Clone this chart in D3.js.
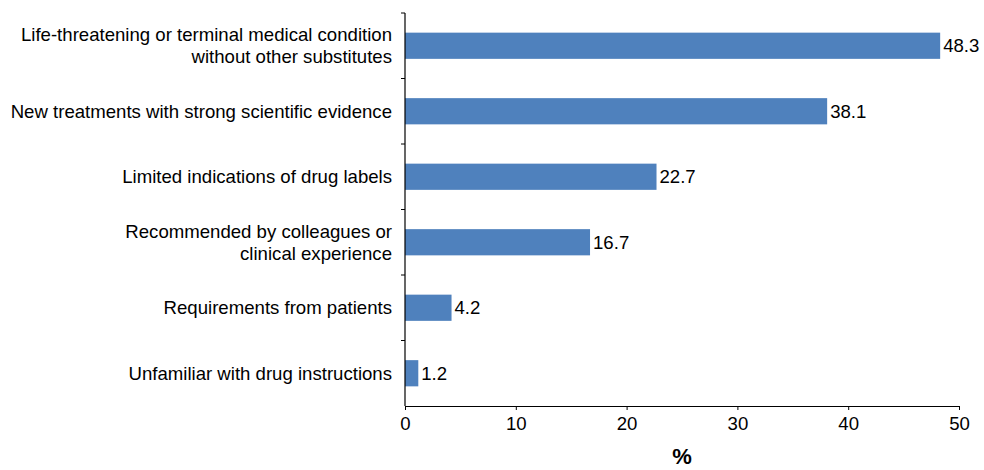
<!DOCTYPE html>
<html>
<head>
<meta charset="utf-8">
<script src="https://cdn.jsdelivr.net/npm/d3@7"></script>
<style>
  html, body { margin: 0; padding: 0; background: #fff; }
  svg { display: block; font-family: "Liberation Sans", Arial, sans-serif; }
</style>
</head>
<body>
<svg id="chart" width="984" height="470"></svg>
<script>
// Reasons for prescribing, share of respondents (%)
const categories = [
  ["Life-threatening or terminal medical condition", "without other substitutes"],
  ["New treatments with strong scientific evidence"],
  ["Limited indications of drug labels"],
  ["Recommended by colleagues or", "clinical experience"],
  ["Requirements from patients"],
  ["Unfamiliar with drug instructions"]
];
const values = [48.3, 38.1, 22.7, 16.7, 4.2, 1.2];
const xTicks = [0, 10, 20, 30, 40, 50];
const xTitle = "%";

const FS = 18.6;
const svg = d3.select("#chart");
const margin = { left: 405, right: 25, top: 13, bottom: 64 };
const W = 984, H = 470;
const innerH = H - margin.top - margin.bottom;

const g = svg.append("g").attr("transform", `translate(${margin.left},${margin.top})`);

const x = d3.scaleLinear().domain([0, 50]).range([0, 554]);
const y = d3.scaleBand().domain(d3.range(categories.length)).range([0, innerH]).paddingInner(0.6).paddingOuter(0.3);

// bars
g.selectAll("rect.bar").data(values).join("rect")
  .attr("class", "bar")
  .attr("x", x(0))
  .attr("y", (d, i) => y(i))
  .attr("width", d => x(d) - x(0))
  .attr("height", y.bandwidth())
  .attr("fill", "#4f81bd");

// value labels
g.selectAll("text.val").data(values).join("text")
  .attr("class", "val")
  .attr("x", d => x(d) + 3)
  .attr("y", (d, i) => y(i) + y.bandwidth() / 2)
  .attr("dy", "0.35em")
  .attr("font-size", FS)
  .attr("fill", "#000")
  .text(d => d.toFixed(1));

// x axis
const xAxis = g.append("g").attr("transform", `translate(0,${innerH})`)
  .call(d3.axisBottom(x).tickValues(xTicks).tickSize(4).tickSizeOuter(0).tickPadding(7));
xAxis.select(".domain").attr("stroke", "#000").attr("stroke-width", 1.2);
xAxis.selectAll(".tick line").attr("stroke", "#000");
xAxis.selectAll(".tick text").attr("font-size", FS).attr("fill", "#000")
  .attr("font-family", "Liberation Sans, Arial, sans-serif");

// y axis: line with ticks at category boundaries
const step = innerH / categories.length;
g.append("line").attr("x1", 0).attr("x2", 0).attr("y1", 0).attr("y2", innerH)
  .attr("stroke", "#000").attr("stroke-width", 1.2);
g.selectAll("line.ytick").data(d3.range(categories.length)).join("line")
  .attr("class", "ytick")
  .attr("x1", -4).attr("x2", 0)
  .attr("y1", i => i * step).attr("y2", i => i * step)
  .attr("stroke", "#000");

// category labels
const labels = g.selectAll("text.cat").data(categories).join("text")
  .attr("class", "cat")
  .attr("text-anchor", "end")
  .attr("font-size", FS)
  .attr("fill", "#000")
  .attr("x", -13)
  .attr("y", (d, i) => y(i) + y.bandwidth() / 2);
labels.each(function(lines) {
  const t = d3.select(this);
  const lh = 22;
  const off = -(lines.length - 1) * lh / 2;
  lines.forEach((ln, j) => {
    t.append("tspan").attr("x", -13)
      .attr("dy", j === 0 ? (off / FS + 0.35) + "em" : lh + "px")
      .text(ln);
  });
});

// x axis title
g.append("text")
  .attr("x", x(25))
  .attr("y", innerH + 58)
  .attr("text-anchor", "middle")
  .attr("font-size", 22)
  .attr("font-weight", "bold")
  .attr("fill", "#000")
  .text(xTitle);
</script>
</body>
</html>
